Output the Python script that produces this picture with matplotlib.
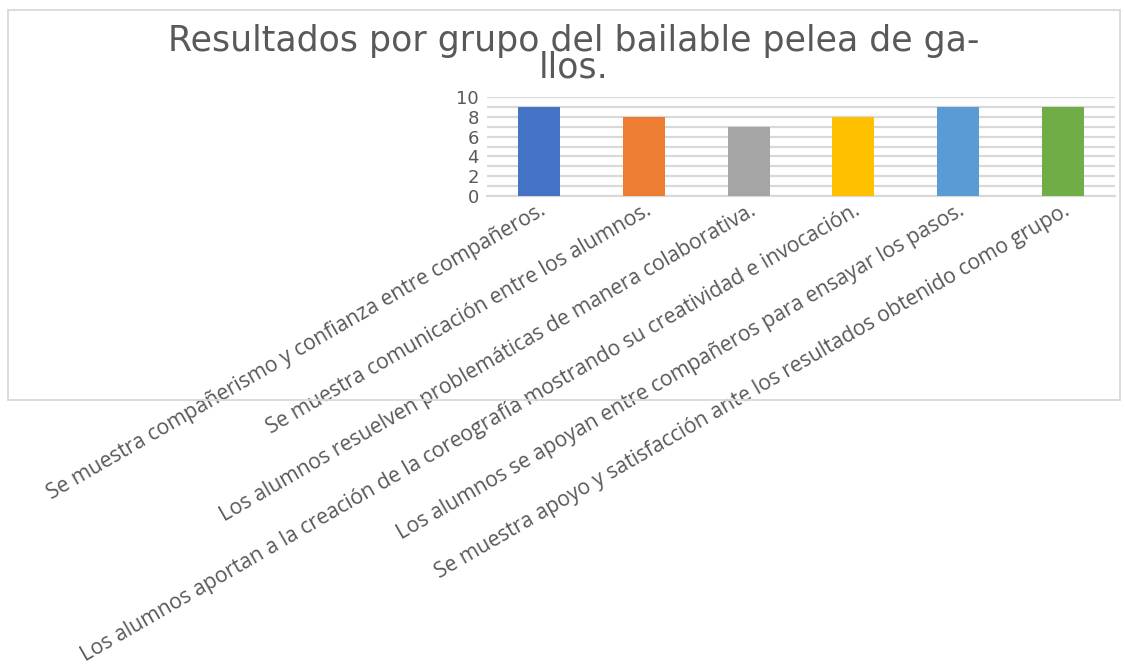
import matplotlib
matplotlib.use("Agg")
from matplotlib import pyplot as plt
from matplotlib.patches import Rectangle

categories = [
    "Se muestra compañerismo y confianza entre compañeros.",
    "Se muestra comunicación entre los alumnos.",
    "Los alumnos resuelven problemáticas de manera colaborativa.",
    "Los alumnos aportan a la creación de la coreografía mostrando su creatividad e invocación.",
    "Los alumnos se apoyan entre compañeros para ensayar los pasos.",
    "Se muestra apoyo y satisfacción ante los resultados obtenido como grupo.",
]
values = [9, 8, 7, 8, 9, 9]
colors = ["#4472C4", "#ED7D31", "#A5A5A5", "#FFC000", "#5B9BD5", "#70AD47"]
y_ticks = [0, 2, 4, 6, 8, 10]

plt.rcParams["font.family"] = ["DejaVu Sans"]
text_gray = "#595959"
grid_gray = "#D9D9D9"

fig = plt.figure(figsize=(11.25, 6.66), dpi=100)

# chart border
fig.patches.append(Rectangle((8 / 1125, 1 - 400 / 666), 1112 / 1125, 390 / 666,
                             transform=fig.transFigure, fill=False,
                             edgecolor=grid_gray, linewidth=1.3))

ax = fig.add_axes([487 / 1125, 1 - 196 / 666, 628 / 1125, 99 / 666])
x = list(range(len(categories)))
ax.bar(x, values, width=0.4, color=colors, zorder=3)

ax.set_xlim(-0.5, len(categories) - 0.5)
ax.set_ylim(0, 10)
ax.set_yticks(y_ticks)
ax.set_yticks(range(0, 11), minor=True)
ax.grid(axis="y", which="both", color=grid_gray, linewidth=1.6, zorder=0)
ax.tick_params(axis="y", which="both", length=0, labelsize=13, labelcolor=text_gray, pad=6)
ax.tick_params(axis="x", length=0, pad=3)

for s in ["top", "right", "left"]:
    ax.spines[s].set_visible(False)
ax.spines["bottom"].set_color(grid_gray)
ax.spines["bottom"].set_linewidth(1.6)

ax.set_xticks(x)
ax.set_xticklabels(categories, rotation=30, ha="right", va="top",
                   rotation_mode="anchor", fontsize=15.2, color=text_gray,
                   family="Open Sans")

fig.text(574 / 1125, 1 - 54 / 666, "Resultados por grupo del bailable pelea de ga-\nllos.",
         ha="center", va="center", fontsize=25, color=text_gray, linespacing=0.72)

fig.savefig("out.png", dpi=100)
